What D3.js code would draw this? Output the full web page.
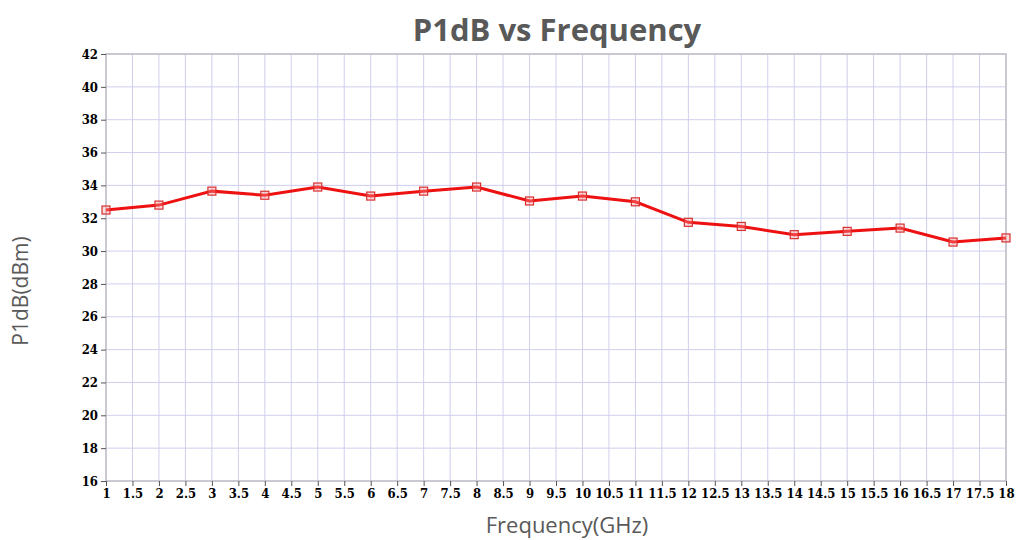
<!DOCTYPE html>
<html lang="en">
<head>
<meta charset="utf-8">
<title>P1dB vs Frequency</title>
<script src="https://cdn.jsdelivr.net/npm/d3@7"></script>
<style>
  body { margin: 0; background: #fff; }
  .tick text { font-family: "DejaVu Serif Condensed", "DejaVu Serif", serif; font-weight: bold; font-size: 13px; fill: #000; }
</style>
</head>
<body>
<script>
// data
var freqs = [1, 2, 3, 4, 5, 6, 7, 8, 9, 10, 11, 12, 13, 14, 15, 16, 17, 18];
var p1db = [32.5, 32.8, 33.65, 33.4, 33.9, 33.35, 33.65, 33.9, 33.05, 33.35, 33.0, 31.75, 31.5, 31.0, 31.2, 31.4, 30.55, 30.8];
var xTicks = d3.range(1, 18.01, 0.5);
var yTicks = d3.range(16, 42.01, 2);

var w = 1018, h = 540;
var plotL = 106, plotR = 1006, plotT = 54, plotB = 481;

var svg = d3.select("body").append("svg")
  .attr("width", w)
  .attr("height", h);

var x = d3.scaleLinear().domain([1, 18]).range([plotL, plotR]);
var y = d3.scaleLinear().domain([16, 42]).range([plotB, plotT]);

// grid
svg.append("g").selectAll("line")
  .data(xTicks)
  .enter().append("line")
  .attr("x1", function(d) { return x(d); })
  .attr("x2", function(d) { return x(d); })
  .attr("y1", plotT).attr("y2", plotB)
  .attr("stroke", "#cfcfee").attr("stroke-width", 1);

svg.append("g").selectAll("line")
  .data(yTicks)
  .enter().append("line")
  .attr("y1", function(d) { return y(d); })
  .attr("y2", function(d) { return y(d); })
  .attr("x1", plotL).attr("x2", plotR)
  .attr("stroke", "#cfcfee").attr("stroke-width", 1);

// frame
svg.append("rect")
  .attr("x", plotL).attr("y", plotT)
  .attr("width", plotR - plotL).attr("height", plotB - plotT)
  .attr("fill", "none").attr("stroke", "#c0c0c8").attr("stroke-width", 1.5);

// axes
var xAxis = d3.axisBottom(x)
  .tickValues(xTicks)
  .tickSize(5)
  .tickPadding(3)
  .tickFormat(function(d) { return d % 1 === 0 ? d : d3.format(".1f")(d); });

var yAxis = d3.axisLeft(y)
  .tickValues(yTicks)
  .tickSize(5)
  .tickPadding(3);

svg.append("g")
  .attr("class", "x axis")
  .attr("transform", "translate(0," + plotB + ")")
  .call(xAxis)
  .call(function(g) { g.select(".domain").remove(); })
  .call(function(g) { g.selectAll(".tick line").attr("stroke", "#555"); });

svg.append("g")
  .attr("class", "y axis")
  .attr("transform", "translate(" + plotL + ",0)")
  .call(yAxis)
  .call(function(g) { g.select(".domain").remove(); })
  .call(function(g) { g.selectAll(".tick line").attr("stroke", "#555"); });

// line
var line = d3.line()
  .x(function(d, i) { return x(freqs[i]); })
  .y(function(d) { return y(d); });

svg.append("path")
  .datum(p1db)
  .attr("d", line)
  .attr("fill", "none")
  .attr("stroke", "#ee1111")
  .attr("stroke-width", 3);

svg.selectAll("rect.mark")
  .data(p1db)
  .enter().append("rect")
  .attr("class", "mark")
  .attr("x", function(d, i) { return x(freqs[i]) - 4; })
  .attr("y", function(d) { return y(d) - 4; })
  .attr("width", 8).attr("height", 8)
  .attr("fill", "rgba(255,150,150,0.35)")
  .attr("stroke", "#d83030")
  .attr("stroke-width", 1.2);

// title and labels
svg.append("text")
  .attr("x", 557).attr("y", 41)
  .attr("text-anchor", "middle")
  .attr("font-family", "Open Sans, sans-serif")
  .attr("font-weight", "bold")
  .attr("font-size", "31px")
  .attr("fill", "#595959")
  .text("P1dB vs Frequency");

svg.append("text")
  .attr("x", 567).attr("y", 533)
  .attr("text-anchor", "middle")
  .attr("font-family", "Open Sans, sans-serif")
  .attr("font-size", "22px")
  .attr("fill", "#595959")
  .text("Frequency(GHz)");

svg.append("text")
  .attr("transform", "translate(28,291) rotate(-90)")
  .attr("text-anchor", "middle")
  .attr("font-family", "Open Sans, sans-serif")
  .attr("font-size", "21px")
  .attr("fill", "#595959")
  .text("P1dB(dBm)");
</script>
</body>
</html>
